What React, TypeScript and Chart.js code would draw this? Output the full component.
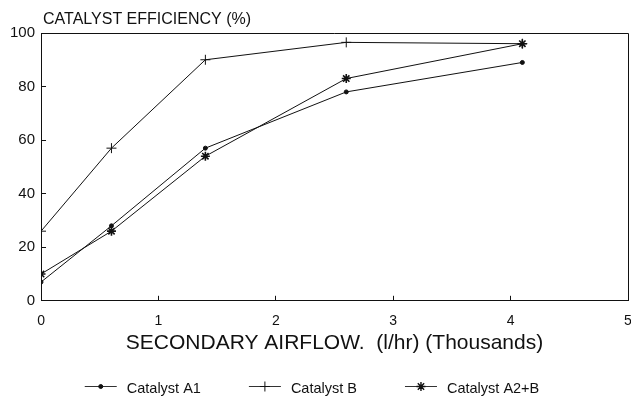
import React, { useEffect, useRef } from "react";
import { Chart, registerables } from "chart.js";
import { drawPoint } from "chart.js/helpers";

Chart.register(...registerables);

// ---- data ----
const airflow = [0, 0.6, 1.4, 2.6, 4.1];
const catalystA1 = [7, 28, 57, 78, 89];
const catalystB = [26, 57, 90, 96.5, 96];
const catalystA2B = [10, 26, 54, 83, 96];
const seriesNames = ["Catalyst A1", "Catalyst B", "Catalyst A2+B"];
const xTickValues = [0, 1, 2, 3, 4, 5];
const yTickValues = [0, 20, 40, 60, 80, 100];
const chartTitle = "CATALYST EFFICIENCY (%)";
const xAxisTitle = "SECONDARY AIRFLOW.  (l/hr) (Thousands)";

const FONT = "'Liberation Sans', Arial, Helvetica, sans-serif";
const INK = "#111";

const markerStyles = [
  { pointStyle: "circle", radius: 2 },
  { pointStyle: "cross", radius: 5 },
  { pointStyle: "star", radius: 4.5 },
];

const frameTitlePlugin = {
  id: "frameTitle",
  afterDraw(chart: any) {
    const { ctx, chartArea } = chart;
    ctx.save();
    ctx.strokeStyle = INK;
    ctx.lineWidth = 1;
    ctx.beginPath();
    ctx.moveTo(chartArea.left, Math.round(chartArea.top) + 0.5);
    ctx.lineTo(Math.round(chartArea.right) + 0.5, Math.round(chartArea.top) + 0.5);
    ctx.lineTo(Math.round(chartArea.right) + 0.5, chartArea.bottom);
    ctx.stroke();
    ctx.fillStyle = INK;
    ctx.font = `16px ${FONT}`;
    ctx.textAlign = "left";
    ctx.textBaseline = "middle";
    ctx.fillText(chartTitle, chartArea.left + 2, 20);
    ctx.restore();
  },
};

const legendPlugin = {
  id: "lineMarkerLegend",
  afterDraw(chart: any) {
    const { ctx } = chart;
    const sample = 32;
    const textGap = 10;
    const itemGap = 48;
    const centerX = 312;
    const lineY = 386;
    const textY = 389;
    ctx.save();
    ctx.font = `14.5px ${FONT}`;
    const items = chart.data.datasets.map((ds: any, i: number) => ({
      ds,
      i,
      w: sample + textGap + ctx.measureText(ds.label).width,
    }));
    const total = items.reduce((s: number, it: any) => s + it.w, 0) + itemGap * (items.length - 1);
    let x = centerX - total / 2;
    for (const it of items) {
      ctx.strokeStyle = "#333";
      ctx.lineWidth = 1;
      ctx.beginPath();
      ctx.moveTo(x, lineY + 0.5);
      ctx.lineTo(x + sample, lineY + 0.5);
      ctx.stroke();
      ctx.strokeStyle = INK;
      ctx.fillStyle = INK;
      ctx.lineWidth = it.i === 2 ? 1.4 : 1;
      drawPoint(ctx, { ...markerStyles[it.i], rotation: 0, borderWidth: 1 } as any, x + sample / 2, lineY + 0.5);
      ctx.fillStyle = INK;
      ctx.textAlign = "left";
      ctx.textBaseline = "middle";
      ctx.fillText(it.ds.label, x + sample + textGap, textY);
      x += it.w + itemGap;
    }
    ctx.restore();
  },
};

export default function App() {
  const ref = useRef<HTMLCanvasElement>(null);
  useEffect(() => {
    const mk = (vals: number[]) => airflow.map((x, i) => ({ x, y: vals[i] }));
    const series = [catalystA1, catalystB, catalystA2B];
    const chart = new Chart(ref.current!, {
      type: "line",
      data: {
        datasets: series.map((vals, i) => ({
          label: seriesNames[i],
          data: mk(vals),
          borderColor: INK,
          backgroundColor: INK,
          borderWidth: 1,
          pointStyle: markerStyles[i].pointStyle as any,
          pointRadius: markerStyles[i].radius,
          pointBorderWidth: i === 2 ? 1.6 : 1,
          pointBorderColor: INK,
          pointBackgroundColor: INK,
          tension: 0,
          fill: false,
        })),
      },
      plugins: [frameTitlePlugin, legendPlugin],
      options: {
        animation: false,
        responsive: false,
        devicePixelRatio: 1,
        layout: { padding: { left: -1, right: 8, top: 33, bottom: 43 } },
        plugins: {
          legend: { display: false },
          title: { display: false },
          tooltip: { enabled: false },
        },
        scales: {
          x: {
            type: "linear",
            min: 0,
            max: 5,
            afterBuildTicks: (s: any) => {
              s.ticks = xTickValues.map((v) => ({ value: v }));
            },
            afterFit: (s: any) => {
              s.paddingLeft = 4;
              s.paddingRight = 4;
            },
            ticks: {
              font: { family: FONT, size: 14 },
              color: INK,
              padding: 16.6,
              maxRotation: 0,
            },
            grid: { drawOnChartArea: false, drawTicks: true, tickLength: -5, color: INK },
            border: { color: INK, width: 1 },
            title: {
              display: true,
              text: xAxisTitle,
              color: INK,
              font: { family: FONT, size: 21 },
              padding: { top: -15, bottom: 4 },
            },
          },
          y: {
            min: 0,
            max: 100,
            afterBuildTicks: (s: any) => {
              s.ticks = yTickValues.map((v) => ({ value: v }));
            },
            ticks: {
              font: { family: FONT, size: 15 },
              color: INK,
              padding: 11,
            },
            grid: { drawOnChartArea: false, drawTicks: true, tickLength: -5, color: INK },
            border: { color: INK, width: 1 },
          },
        },
      } as any,
    });
    return () => chart.destroy();
  }, []);
  return (
    <div
      style={{
        position: "absolute",
        left: 0,
        top: 0,
        width: 631,
        height: 403,
        overflow: "hidden",
        background: "#fff",
      }}
    >
      <canvas ref={ref} width={636} height={403} style={{ display: "block" }} />
    </div>
  );
}
